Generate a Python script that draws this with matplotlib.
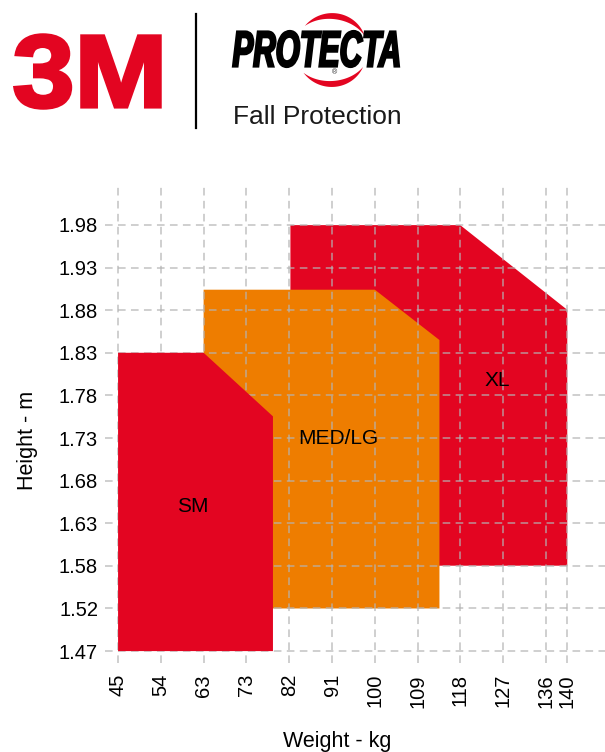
import matplotlib
matplotlib.use("Agg")
import numpy as np
import matplotlib.pyplot as plt
from matplotlib.patches import Polygon, PathPatch
from matplotlib.lines import Line2D
from matplotlib.textpath import TextPath
from matplotlib.font_manager import FontProperties
from matplotlib.transforms import Affine2D, IdentityTransform
import matplotlib.patheffects as pe

# ---- data (kg / m) ----
weight_labels = ["45", "54", "63", "73", "82", "91", "100", "109", "118", "127", "136", "140"]
weight_ticks = [45.36, 54.43, 63.50, 72.57, 81.65, 90.72, 99.79, 108.86, 117.93, 127.01, 136.08, 140.61]
height_labels = ["1.47", "1.52", "1.58", "1.63", "1.68", "1.73", "1.78", "1.83", "1.88", "1.93", "1.98"]
height_ticks = [1.4732, 1.5240, 1.5748, 1.6256, 1.6764, 1.7272, 1.7780, 1.8288, 1.8796, 1.9304, 1.9812]

sizes = ["XL", "MED/LG", "SM"]
size_weights = [
    [81.9, 81.9, 117.9, 140.6, 140.6],
    [63.5, 63.5, 99.8, 113.5, 113.5],
    [45.36, 45.36, 63.5, 78.2, 78.2],
]
size_heights = [
    [1.575, 1.981, 1.981, 1.880, 1.575],
    [1.524, 1.904, 1.904, 1.844, 1.524],
    [1.4732, 1.8288, 1.8288, 1.753, 1.4732],
]
label_pos = [(125.7, 1.796), (92.0, 1.727), (61.3, 1.645)]

red = "#E30521"
orange = "#EE7D00"
size_colors = [red, orange, red]
font = "Liberation Sans"

W, H = 605, 752
fig = plt.figure(figsize=(W / 100, H / 100), dpi=100)
ax = fig.add_axes([105 / W, 89 / H, 500 / W, 480 / H])

for i, name in enumerate(sizes):
    pts = list(zip(size_weights[i], size_heights[i]))
    ax.add_patch(Polygon(pts, closed=True, facecolor=size_colors[i], edgecolor="none", zorder=i + 1))
    ax.text(label_pos[i][0], label_pos[i][1], name, ha="center", va="center",
            fontsize=15, family=font, color="black", zorder=10)

ax.set_xlim(42.59, 148.6)
ax.set_ylim(1.4590, 2.0312)
ax.set_xticks(weight_ticks)
ax.set_xticklabels(weight_labels, rotation=90, fontsize=14.5, family=font)
ax.set_yticks(height_ticks)
ax.set_yticklabels(height_labels, fontsize=14.5, family=font)
ax.tick_params(length=0, pad=8)
ax.tick_params(axis="y", pad=5)
for s in ax.spines.values():
    s.set_visible(False)
ax.grid(True, color="#b4b4b4", linestyle=(0, (5, 3.5)), linewidth=1.1, alpha=0.8, zorder=5)
ax.set_axisbelow(False)

# axis titles
fig.text(28 / W, 1 - 440 / H, "Height - m", rotation=90, ha="center", va="center", fontsize=15.5, family=font)
fig.text(337 / W, 1 - 741 / H, "Weight - kg", ha="center", va="center", fontsize=15.5, family=font)

# ---- header ----
def fit_text(s, box, color, weight="bold", style="normal", family=font, z=3):
    # draw text as a path squeezed into a pixel box (x0, top, x1, bottom)
    tp = TextPath((0, 0), s, size=100, prop=FontProperties(family=family, weight=weight, style=style))
    ext = tp.get_extents()
    x0, top, x1, bot = box
    sx = (x1 - x0) / ext.width
    sy = (bot - top) / ext.height
    tr = Affine2D().translate(-ext.x0, -ext.y0).scale(sx, sy).translate(x0, H - bot)
    p = PathPatch(tr.transform_path(tp), facecolor=color, edgecolor="none",
                  transform=IdentityTransform(), zorder=z)
    fig.add_artist(p)
    return p

def crescent(cx, cy, rx, ry, t1, t2, wmax):
    # tapered arc in pixel coords (y measured from the top)
    t = np.radians(np.linspace(t1, t2, 60))
    w = wmax * np.sin(np.linspace(0, np.pi, 60)) / 2
    outer = np.c_[cx + (rx + w) * np.cos(t), H - cy + (ry + w) * np.sin(t)]
    inner = np.c_[cx + (rx - w) * np.cos(t), H - cy + (ry - w) * np.sin(t)][::-1]
    fig.add_artist(Polygon(np.vstack([outer, inner]), closed=True, facecolor=red,
                           edgecolor="none", transform=IdentityTransform(), zorder=2))

logo = fit_text("3M", (15, 35, 160, 108), red, weight="bold")
logo.set_path_effects([pe.withStroke(linewidth=2.5, foreground=red)])
fig.add_artist(Line2D([196 / W, 196 / W], [1 - 14 / H, 1 - 128 / H], color="black", lw=1.6))

crescent(331, 50, 37, 34, 25, 135, 6)
crescent(331, 50, 37, 34, 222, 330, 6)
brand = fit_text("PROTECTA", (233, 31, 399, 67), "black", weight="bold", style="italic")
brand.set_path_effects([pe.withStroke(linewidth=1.6, foreground="black")])
fig.text(335 / W, 1 - 73 / H, "®", color="#222222", fontsize=5, ha="center", va="center", family=font)
fig.text(233 / W, 1 - 124 / H, "Fall Protection", color="#1a1a1a", fontsize=19,
         ha="left", va="baseline", family=font)

fig.savefig("out.png", dpi=100)
